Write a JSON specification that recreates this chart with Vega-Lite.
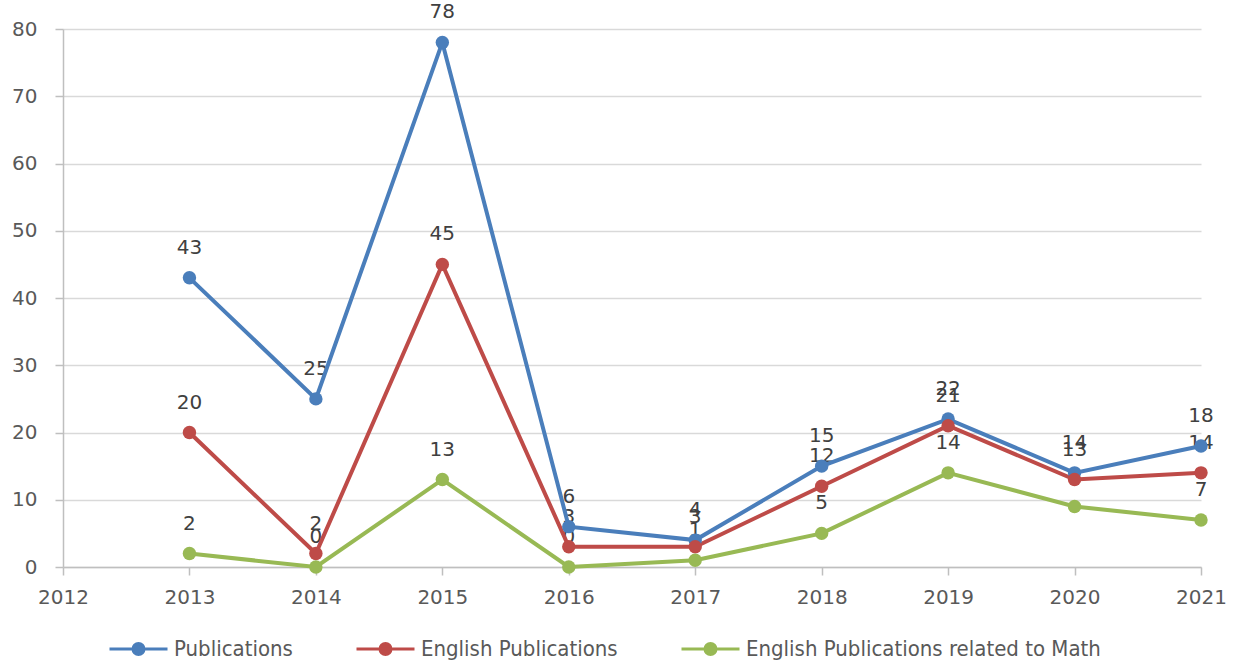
{
  "$schema": "https://vega.github.io/schema/vega-lite/v6.json",
  "autosize": "none",
  "width": 1138,
  "height": 538,
  "padding": {"left": 63, "top": 29, "right": 35, "bottom": 94},
  "background": "white",
  "config": {"view": {"stroke": null}},
  "data": {"values": [
    {"year": 2013, "series": "Publications", "value": 43},
    {"year": 2014, "series": "Publications", "value": 25},
    {"year": 2015, "series": "Publications", "value": 78},
    {"year": 2016, "series": "Publications", "value": 6},
    {"year": 2017, "series": "Publications", "value": 4},
    {"year": 2018, "series": "Publications", "value": 15},
    {"year": 2019, "series": "Publications", "value": 22},
    {"year": 2020, "series": "Publications", "value": 14},
    {"year": 2021, "series": "Publications", "value": 18},
    {"year": 2013, "series": "English Publications", "value": 20},
    {"year": 2014, "series": "English Publications", "value": 2},
    {"year": 2015, "series": "English Publications", "value": 45},
    {"year": 2016, "series": "English Publications", "value": 3},
    {"year": 2017, "series": "English Publications", "value": 3},
    {"year": 2018, "series": "English Publications", "value": 12},
    {"year": 2019, "series": "English Publications", "value": 21},
    {"year": 2020, "series": "English Publications", "value": 13},
    {"year": 2021, "series": "English Publications", "value": 14},
    {"year": 2013, "series": "English Publications related to Math", "value": 2},
    {"year": 2014, "series": "English Publications related to Math", "value": 0},
    {"year": 2015, "series": "English Publications related to Math", "value": 13},
    {"year": 2016, "series": "English Publications related to Math", "value": 0},
    {"year": 2017, "series": "English Publications related to Math", "value": 1},
    {"year": 2018, "series": "English Publications related to Math", "value": 5},
    {"year": 2019, "series": "English Publications related to Math", "value": 14},
    {"year": 2020, "series": "English Publications related to Math", "value": 9},
    {"year": 2021, "series": "English Publications related to Math", "value": 7}
  ]},
  "encoding": {
    "x": {
      "field": "year", "type": "quantitative",
      "scale": {"domain": [2012, 2021], "nice": false, "zero": false},
      "axis": {
        "title": null, "values": [2012, 2013, 2014, 2015, 2016, 2017, 2018, 2019, 2020, 2021],
        "format": "d", "grid": false, "domainColor": "#bfbfbf", "domainWidth": 1.5,
        "tickColor": "#bfbfbf", "tickSize": 8, "tickWidth": 1.5,
        "labelFont": "DejaVu Sans", "labelFontSize": 20, "labelColor": "#595959",
        "labelPadding": 12, "labelFlush": false
      }
    },
    "y": {
      "field": "value", "type": "quantitative",
      "scale": {"domain": [0, 80], "nice": false},
      "axis": {
        "title": null, "values": [0, 10, 20, 30, 40, 50, 60, 70, 80],
        "grid": true, "gridColor": "#d9d9d9", "gridWidth": 1.5,
        "domainColor": "#bfbfbf", "domainWidth": 1.5,
        "tickColor": "#bfbfbf", "tickSize": 8, "tickWidth": 1.5,
        "labelFont": "DejaVu Sans", "labelFontSize": 20, "labelColor": "#595959",
        "labelPadding": 18
      }
    }
  },
  "layer": [
    {
      "mark": {"type": "text", "dy": -30, "font": "DejaVu Sans", "fontSize": 20, "baseline": "middle", "align": "center", "fill": "#404040"},
      "encoding": {"text": {"field": "value", "type": "quantitative"}}
    },
    {
      "mark": {"type": "line", "strokeWidth": 4},
      "encoding": {
        "color": {
          "field": "series", "type": "nominal",
          "scale": {
            "domain": ["Publications", "English Publications", "English Publications related to Math"],
            "range": ["#4a7ebb", "#be4b48", "#98b954"]
          },
          "legend": {
            "title": null, "orient": "none", "direction": "horizontal",
            "legendX": 45, "legendY": 589,
            "symbolType": "M-1,0L1,0M-0.19,0A0.19,0.19 0 1,1 0.19,0A0.19,0.19 0 1,1 -0.19,0Z",
            "symbolSize": 3364, "symbolStrokeWidth": 3,
            "labelFont": "DejaVu Sans Condensed", "labelFontSize": 22, "labelColor": "#595959",
            "labelLimit": 600,
            "labelOffset": 5, "columnPadding": 57,
            "encode": {"symbols": {"update": {
              "fill": {"scale": "color", "field": "value"},
              "stroke": {"scale": "color", "field": "value"},
              "opacity": {"value": 1}
            }}}
          }
        }
      }
    },
    {
      "mark": {"type": "point", "filled": true, "size": 180, "opacity": 1},
      "encoding": {
        "color": {"field": "series", "type": "nominal"}
      }
    }
  ]
}
